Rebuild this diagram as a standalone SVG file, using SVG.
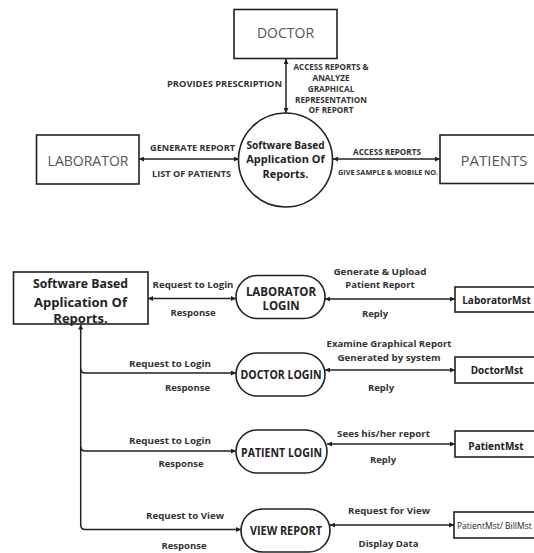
<svg xmlns="http://www.w3.org/2000/svg" width="534" height="553" viewBox="0 0 534 553">
<defs>
<marker id="ah" viewBox="0 0 6 6" refX="6" refY="3" markerWidth="5" markerHeight="5" markerUnits="userSpaceOnUse" orient="auto-start-reverse"><path d="M0,0 L6,3 L0,6 z" fill="#222"/></marker>
</defs>
<style>
.box{fill:#fff;stroke:#222;stroke-width:1.6}
.ln{fill:none;stroke:#222;stroke-width:1.5}
.ent{font-family:"Open Sans","Liberation Sans",sans-serif;font-size:14px;fill:#555;text-anchor:middle;dominant-baseline:central}
.cap{font-family:"Open Sans","Liberation Sans",sans-serif;font-weight:700;font-size:8.2px;fill:#333;text-anchor:middle;dominant-baseline:central}
.lb{font-family:"Open Sans","Liberation Sans",sans-serif;font-weight:700;font-size:9.5px;fill:#333;text-anchor:middle;dominant-baseline:central}
.pt{font-family:"Open Sans","Liberation Sans",sans-serif;font-weight:700;font-size:11.5px;fill:#222;text-anchor:middle;dominant-baseline:central}
.mt{font-family:"Open Sans","Liberation Sans",sans-serif;font-weight:700;font-size:10px;fill:#222;text-anchor:middle;dominant-baseline:central}
</style>
<g id="connectors">
<line class="ln" x1="286" y1="59" x2="286" y2="113" marker-start="url(#ah)" marker-end="url(#ah)"/>
<line class="ln" x1="139" y1="159" x2="239" y2="159" marker-start="url(#ah)" marker-end="url(#ah)"/>
<line class="ln" x1="333" y1="159" x2="440" y2="159" marker-start="url(#ah)" marker-end="url(#ah)"/>
<line class="ln" x1="148" y1="298.5" x2="236" y2="298.5" marker-start="url(#ah)" marker-end="url(#ah)"/>
<line class="ln" x1="325" y1="299" x2="455" y2="299" marker-start="url(#ah)" marker-end="url(#ah)"/>
<path class="ln" d="M80.7,324.5 L80.7,525 Q80.7,529.5 85.2,529.5 L241,529.5" marker-start="url(#ah)" marker-end="url(#ah)"/>
<path class="ln" d="M80.7,368.5 Q80.7,373 85.2,373 L236,373" marker-end="url(#ah)"/>
<path class="ln" d="M80.7,446.5 Q80.7,451 85.2,451 L236,451" marker-end="url(#ah)"/>
<line class="ln" x1="325" y1="370" x2="455" y2="370" marker-start="url(#ah)" marker-end="url(#ah)"/>
<line class="ln" x1="327" y1="444" x2="455" y2="444" marker-start="url(#ah)" marker-end="url(#ah)"/>
<line class="ln" x1="330" y1="525" x2="454" y2="525" marker-start="url(#ah)" marker-end="url(#ah)"/>
</g>
<g id="labels">
<text class="cap" x="224.5" y="83" textLength="115" lengthAdjust="spacingAndGlyphs">PROVIDES PRESCRIPTION</text>
<text class="cap" x="331" y="66" textLength="75" lengthAdjust="spacingAndGlyphs">ACCESS REPORTS &amp;</text>
<text class="cap" x="331" y="77">ANALYZE</text>
<text class="cap" x="331" y="88">GRAPHICAL</text>
<text class="cap" x="331" y="99">REPRESENTATION</text>
<text class="cap" x="331" y="109.5">OF REPORT</text>
<text class="cap" x="192.5" y="147" textLength="85" lengthAdjust="spacingAndGlyphs">GENERATE REPORT</text>
<text class="cap" x="191.5" y="173" textLength="79" lengthAdjust="spacingAndGlyphs">LIST OF PATIENTS</text>
<text class="cap" x="387" y="151" textLength="68" lengthAdjust="spacingAndGlyphs">ACCESS REPORTS</text>
<text class="cap" x="388" y="172" textLength="100" lengthAdjust="spacingAndGlyphs" style="font-size:7px">GIVE SAMPLE &amp; MOBILE NO.</text>
<text class="lb" x="193" y="284" textLength="81" lengthAdjust="spacingAndGlyphs">Request to Login</text>
<text class="lb" x="193" y="312">Response</text>
<text class="lb" x="380" y="271" textLength="93" lengthAdjust="spacingAndGlyphs">Generate  &amp; Upload</text>
<text class="lb" x="380" y="284">Patient Report</text>
<text class="lb" x="375" y="313">Reply</text>
<text class="lb" x="170" y="363" textLength="82" lengthAdjust="spacingAndGlyphs">Request to Login</text>
<text class="lb" x="187.5" y="387.5">Response</text>
<text class="lb" x="389" y="343" textLength="125" lengthAdjust="spacingAndGlyphs">Examine Graphical Report</text>
<text class="lb" x="389" y="357" textLength="103" lengthAdjust="spacingAndGlyphs">Generated by system</text>
<text class="lb" x="381" y="387">Reply</text>
<text class="lb" x="170" y="440" textLength="82" lengthAdjust="spacingAndGlyphs">Request to Login</text>
<text class="lb" x="181" y="463">Response</text>
<text class="lb" x="383.5" y="433" textLength="93" lengthAdjust="spacingAndGlyphs">Sees his/her report</text>
<text class="lb" x="383" y="459">Reply</text>
<text class="lb" x="185" y="515.5" textLength="78" lengthAdjust="spacingAndGlyphs">Request to View</text>
<text class="lb" x="184" y="545">Response</text>
<text class="lb" x="389" y="510" textLength="82" lengthAdjust="spacingAndGlyphs">Request for View</text>
<text class="lb" x="388.5" y="543">Display Data</text>
</g>
<g id="doctor">
<rect class="box" x="234" y="9.5" width="103" height="49"/>
<text class="ent" x="285.5" y="32">DOCTOR</text>
</g>
<g id="laborator">
<rect class="box" x="36.5" y="135" width="102.5" height="49"/>
<text class="ent" x="88" y="160">LABORATOR</text>
</g>
<g id="patients">
<rect class="box" x="440" y="135" width="100" height="48.5"/>
<text class="ent" x="494" y="159.5" style="font-size:15px">PATIENTS</text>
</g>
<g id="system">
<circle class="box" cx="285.5" cy="160" r="47"/>
<text class="pt" x="285.5" y="144" textLength="78" lengthAdjust="spacingAndGlyphs" style="font-size:11px">Software Based</text>
<text class="pt" x="285.5" y="158" style="font-size:11px">Application Of</text>
<text class="pt" x="285.5" y="173" style="font-size:11px">Reports.</text>
</g>
<g id="system-box">
<rect class="box" x="13.5" y="272" width="134.5" height="52"/>
<text class="pt" x="80.5" y="283" style="font-size:13px" textLength="95" lengthAdjust="spacingAndGlyphs">Software Based</text>
<text class="pt" x="80.5" y="301.5" style="font-size:13px">Application Of</text>
<text class="pt" x="80.5" y="318" style="font-size:13px">Reports.</text>
</g>
<g id="laborator-login">
<rect class="box" x="236" y="275.5" width="89" height="43" rx="21.5"/>
<text class="pt" x="281" y="291">LABORATOR</text>
<text class="pt" x="281" y="305">LOGIN</text>
</g>
<g id="laboratormst">
<rect class="box" x="455" y="287" width="90" height="25"/>
<text class="mt" x="496.5" y="300">LaboratorMst</text>
</g>
<g id="doctor-login">
<rect class="box" x="236" y="353" width="89" height="43" rx="21.5"/>
<text class="pt" x="281" y="374" textLength="81" lengthAdjust="spacingAndGlyphs">DOCTOR LOGIN</text>
</g>
<g id="doctormst">
<rect class="box" x="455" y="357" width="90" height="26"/>
<text class="mt" x="497" y="370">DoctorMst</text>
</g>
<g id="patient-login">
<rect class="box" x="236" y="430" width="91" height="43" rx="21.5"/>
<text class="pt" x="281.5" y="452" textLength="81" lengthAdjust="spacingAndGlyphs">PATIENT LOGIN</text>
</g>
<g id="patientmst">
<rect class="box" x="455" y="431" width="90" height="26"/>
<text class="mt" x="496" y="446">PatientMst</text>
</g>
<g id="view-report">
<rect class="box" x="241" y="509" width="89" height="43" rx="21.5"/>
<text class="pt" x="286" y="530" textLength="72" lengthAdjust="spacingAndGlyphs">VIEW REPORT</text>
</g>
<g id="patientmst-billmst">
<rect class="box" x="454" y="512" width="90" height="26"/>
<text x="457" y="525" style="font-family:'Open Sans','Liberation Sans',sans-serif;font-size:8.5px;fill:#222;dominant-baseline:central">PatientMst/ BillMst</text>
</g>
</svg>
